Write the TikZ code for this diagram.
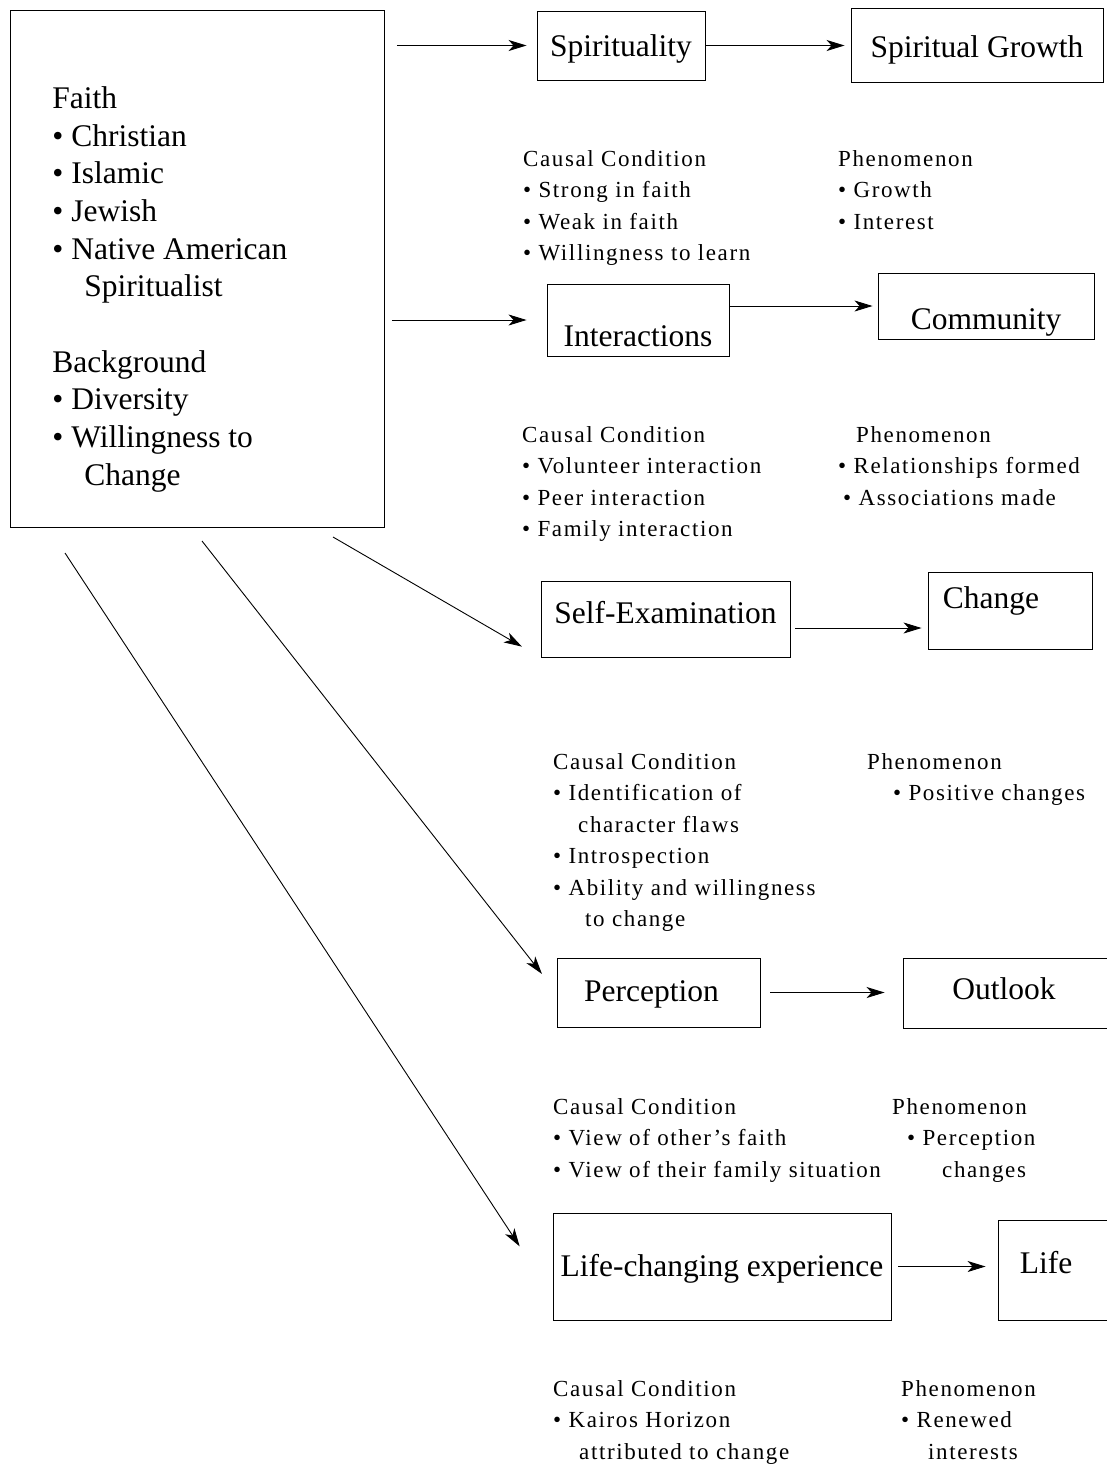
\documentclass[tikz,border=0pt]{standalone}
\usepackage{fontspec}
\setmainfont{Liberation Serif}
\newfontfamily\notefont[LetterSpace=7]{Liberation Serif}
\usepackage{tikz}
\usetikzlibrary{arrows.meta}
\tikzset{every picture/.style={/utils/exec={\fontsize{31.5}{37.7}\selectfont}}}
\tikzstyle{line}=[line width=0.9pt]
\tikzstyle{arrow}=[line,->,>={Stealth[length=18pt,width=11pt,inset=5pt]}]
\tikzstyle{box}=[line,draw,inner sep=0pt,anchor=base]
\tikzstyle{note}=[inner sep=0pt,anchor=north west,align=left,font={\notefont\fontsize{23}{31.5}\selectfont}]

\begin{document}
\begin{tikzpicture}[x=1pt,y=-1pt]
    \useasboundingbox (0,0) rectangle (1107,1467);
    % left box
    \node[box, anchor=north west, inner xsep=42pt] (Faith) at (10,10) {\parbox[c][517pt][t]{290pt}{\vspace*{76pt}%
      Faith\\
      • Christian\\
      • Islamic\\
      • Jewish\\
      • Native American\\
      \hspace*{32pt}Spiritualist\\[37.7pt]
      Background\\
      • Diversity\\
      • Willingness to\\
      \hspace*{32pt}Change}};
    % categories
    \node[box, minimum width=168pt, text height=45pt, text depth=24pt] (Spirit) at (621,56) {Spirituality};
    \node[box, minimum width=252pt, text height=49pt, text depth=25pt] (Growth) at (977,57) {Spiritual Growth};
    \node[box, minimum width=182pt, text height=62pt, text depth=10pt] (Interact) at (638,346) {Interactions};
    \node[box, minimum width=216pt, text height=56pt, text depth=10pt] (Community) at (986,329) {Community};
    \node[box, minimum width=249pt, text height=42pt, text depth=34pt] (SelfExam) at (665.5,623) {Self-Examination};
    \node[box, minimum width=164pt, text height=36pt, text depth=41pt] (Change) at (1010,608) {Change\hspace*{38pt}};
    \node[box, minimum width=203pt, text height=43pt, text depth=26pt] (Percept) at (658.5,1001) {Perception\hspace*{14pt}};
    \node[box, minimum width=212pt, text height=41pt, text depth=29pt] (Outlook) at (1009,999) {Outlook\hspace*{10pt}};
    \node[box, minimum width=338pt, text height=63pt, text depth=44pt] (LifeExp) at (722,1276) {Life-changing experience};
    \node[box, minimum width=117pt, text height=53pt, text depth=47pt] (Life) at (1056.5,1273) {Life\hspace*{21pt}};
    % conditions
    \node[note] (Cause1) at (523,150) {Causal Condition\\• Strong in faith\\• Weak in faith\\• Willingness to learn};
    \node[note] (Phen1) at (838,150) {Phenomenon\\• Growth\\• Interest};
    \node[note] (Cause2) at (522,426) {Causal Condition\\• Volunteer interaction\\• Peer interaction\\• Family interaction};
    \node[note] (Phen2) at (838,426) {\hspace*{18pt}Phenomenon\\• Relationships formed\\\hspace*{5pt}• Associations made};
    \node[note] (Cause3) at (553,753) {Causal Condition\\• Identification of\\\hspace*{25pt}character flaws\\• Introspection\\• Ability and willingness\\\hspace*{32pt}to change};
    \node[note] (Phen3) at (867,753) {Phenomenon\\\hspace*{26pt}• Positive changes};
    \node[note] (Cause4) at (553,1098) {Causal Condition\\• View of other’s faith\\• View of their family situation};
    \node[note] (Phen4) at (892,1098) {Phenomenon\\\hspace*{15pt}• Perception\\\hspace*{50pt}changes};
    \node[note] (Cause5) at (553,1380) {Causal Condition\\• Kairos Horizon\\\hspace*{26pt}attributed to change};
    \node[note] (Phen5) at (901,1380) {Phenomenon\\• Renewed\\\hspace*{27pt}interests};
    % arrows
    \coordinate (FaithOut1) at (333,537);
    \coordinate (FaithOut2) at (202,541);
    \coordinate (FaithOut3) at (65,553);
    \coordinate (SelfOut) at ([yshift=-9pt]SelfExam.east);
    \draw[arrow, shorten <=12pt, shorten >=10pt] (Faith.east |- Spirit.west) -- (Spirit.west);
    \draw[arrow, shorten >=6pt] (Spirit.east) -- (Growth.west |- Spirit.east);
    \draw[arrow, shorten <=7pt, shorten >=20pt] (Faith.east |- Interact.west) -- (Interact.west);
    \draw[arrow, shorten >=5pt] (Interact.east |- Community.west) -- (Community.west);
    \draw[arrow, shorten >=21.6pt] (FaithOut1) -- (SelfExam.south west);
    \draw[arrow, shorten >=23.6pt] (FaithOut2) -- (Percept.west);
    \draw[arrow, shorten >=60pt] (FaithOut3) -- ([yshift=-30pt]LifeExp.west);
    \draw[arrow, shorten <=5pt, shorten >=6pt] (SelfOut) -- (SelfOut -| Change.west);
    \draw[arrow, shorten <=10pt, shorten >=18pt] (Percept.east) -- (Percept.east -| Outlook.west);
    \draw[arrow, shorten <=7pt, shorten >=12pt] (LifeExp.east) -- (LifeExp.east -| Life.west);
\end{tikzpicture}
\end{document}
